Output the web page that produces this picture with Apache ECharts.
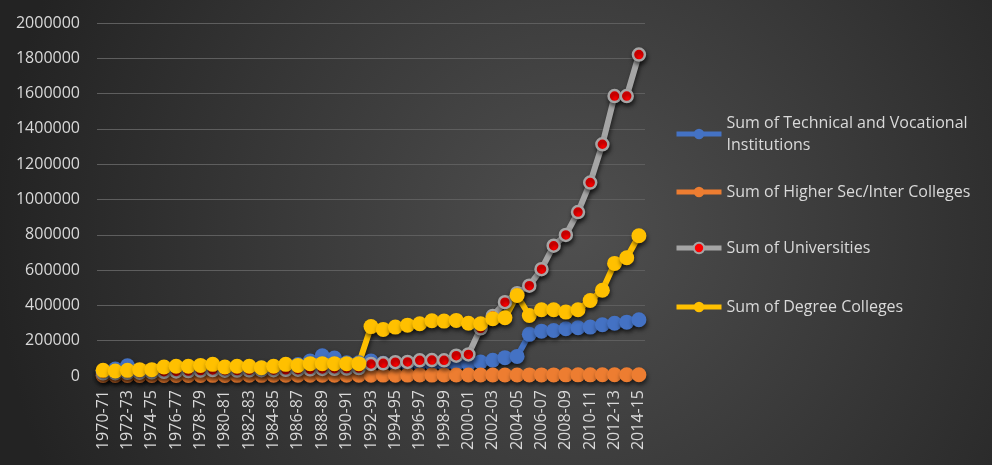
<!DOCTYPE html>
<html>
<head>
<meta charset="utf-8">
<script src="https://cdn.jsdelivr.net/npm/echarts@6/dist/echarts.min.js"></script>
<style>
  html, body { margin: 0; padding: 0; background: #2a2a2a; }
  #chart { width: 992px; height: 465px; }
</style>
</head>
<body>
<div id="chart"></div>
<script>
// 学年
const years = [
  '1970-71', '1971-72', '1972-73', '1973-74', '1974-75', '1975-76', '1976-77', '1977-78', '1978-79',
  '1979-80', '1980-81', '1981-82', '1982-83', '1983-84', '1984-85', '1985-86', '1986-87', '1987-88',
  '1988-89', '1989-90', '1990-91', '1991-92', '1992-93', '1993-94', '1994-95', '1995-96', '1996-97',
  '1997-98', '1998-99', '1999-00', '2000-01', '2001-02', '2002-03', '2003-04', '2004-05', '2005-06',
  '2006-07', '2007-08', '2008-09', '2009-10', '2010-11', '2011-12', '2012-13', '2013-14', '2014-15'
];

const technical = [
  25000, 40000, 58000, 30000, 30000, 32000, 34000, 36000, 38000, 40000, 42000, 44000, 46000, 45000, 48000,
  55000, 65000, 85000, 115000, 102000, 75000, 75000, 85000, 72000, 72000, 72000, 72000, 70000, 70000, 70000,
  70000, 79000, 89000, 104000, 111000, 236000, 254000, 258000, 268000, 273000, 277000, 290000, 299000, 305000, 319000
];

const higherSec = [
  2500, 2700, 2600, 3000, 2900, 3200, 3100, 3400, 3300, 3600, 3500, 3700, 3900, 3800, 4000,
  4200, 4100, 4400, 4300, 4500, 4700, 4600, 4800, 5000, 4900, 5100, 5300, 5200, 5400, 5600,
  5500, 5700, 5900, 5800, 6000, 6200, 6100, 6300, 6500, 6400, 6600, 6800, 6700, 6900, 7000
];

const universities = [
  15000, 16000, 18000, 19000, 21000, 24000, 26000, 28000, 31000, 34000, 30000, 31000, 32000, 33000, 33000,
  35000, 36000, 38000, 40000, 41000, 42000, 45000, 68000, 72000, 78000, 80000, 89000, 90000, 89000, 115000,
  122000, 270000, 340000, 418000, 469000, 512000, 605000, 738000, 799000, 929000, 1096000, 1313000, 1586000, 1586000, 1821000
];

const degreeColleges = [
  32000, 28000, 32000, 36000, 36000, 51000, 55000, 55000, 60000, 66000, 51000, 55000, 55000, 47000, 55000,
  66000, 60000, 70000, 70000, 70000, 70000, 70000, 280000, 264000, 277000, 288000, 296000, 313000, 311000, 315000,
  299000, 296000, 324000, 330000, 456000, 343000, 375000, 375000, 362000, 375000, 428000, 486000, 638000, 670000, 795000
];

const yTicks = { min: 0, max: 2000000, interval: 200000 };

const names = [
  'Sum of Technical and Vocational Institutions',
  'Sum of Higher Sec/Inter Colleges',
  'Sum of Universities',
  'Sum of Degree Colleges'
];

const textColor = '#d9d9d9';
const fontFamily = '"Open Sans", "Noto Sans", sans-serif';

const lineShadow = {
  shadowColor: 'rgba(0,0,0,0.55)',
  shadowBlur: 4,
  shadowOffsetX: 1,
  shadowOffsetY: 3
};

function makeSeries(name, data, lineColor, dotColor, border) {
  return {
    name: name,
    type: 'line',
    data: data,
    symbol: 'circle',
    symbolSize: border ? 12 : 15,
    showAllSymbol: true,
    animation: false,
    lineStyle: Object.assign({ color: lineColor, width: 6 }, lineShadow),
    itemStyle: Object.assign({
      color: dotColor,
      borderColor: lineColor,
      borderWidth: border ? 2.5 : 0
    }, lineShadow),
    emphasis: { disabled: true }
  };
}

// 每个图例单独放置，才能对上原图的位置
function makeLegend(name, top, extra) {
  return Object.assign({
    data: [name],
    orient: 'vertical',
    left: 674,
    top: top,
    padding: 0,
    itemWidth: 45,
    itemHeight: 13,
    selectedMode: false,
    lineStyle: { width: 5, shadowBlur: 0 },
    itemStyle: { shadowBlur: 0 },
    textStyle: { color: textColor, fontSize: 16, fontFamily: fontFamily, lineHeight: 22 }
  }, extra || {});
}

const chart = echarts.init(document.getElementById('chart'));

const option = {
  backgroundColor: {
    type: 'radial',
    x: 0.58, y: 0.5, r: 1.25,
    colorStops: [
      { offset: 0, color: '#4f4f4f' },
      { offset: 1, color: '#232323' }
    ]
  },
  textStyle: { fontFamily: fontFamily },
  grid: { left: 97, right: 347, top: 23, bottom: 89, containLabel: false },
  legend: [
    makeLegend(names[0], 101, {
      formatter: () => 'Sum of Technical and Vocational\nInstitutions',
      textStyle: { color: textColor, fontSize: 16, fontFamily: fontFamily, lineHeight: 22, padding: [22, 0, 0, 0] }
    }),
    makeLegend(names[1], 181),
    makeLegend(names[2], 237),
    makeLegend(names[3], 296)
  ],
  xAxis: {
    type: 'category',
    data: years,
    boundaryGap: true,
    axisLine: { show: false },
    axisTick: { show: false },
    axisLabel: {
      rotate: 90,
      interval: 1,
      margin: 14,
      color: textColor,
      fontSize: 16,
      fontFamily: fontFamily
    }
  },
  yAxis: {
    type: 'value',
    min: yTicks.min,
    max: yTicks.max,
    interval: yTicks.interval,
    axisLine: { show: false },
    axisTick: { show: false },
    splitLine: { lineStyle: { color: '#5e5e5e', width: 1 } },
    axisLabel: {
      margin: 17,
      color: textColor,
      fontSize: 16,
      fontFamily: fontFamily,
      formatter: v => String(v)
    }
  },
  series: [
    makeSeries(names[0], technical, '#4472c4', '#4472c4', false),
    makeSeries(names[1], higherSec, '#ed7d31', '#ed7d31', false),
    makeSeries(names[2], universities, '#a5a5a5', '#ff0000', true),
    makeSeries(names[3], degreeColleges, '#ffc000', '#ffc000', false)
  ]
};

chart.setOption(option);
</script>
</body>
</html>
